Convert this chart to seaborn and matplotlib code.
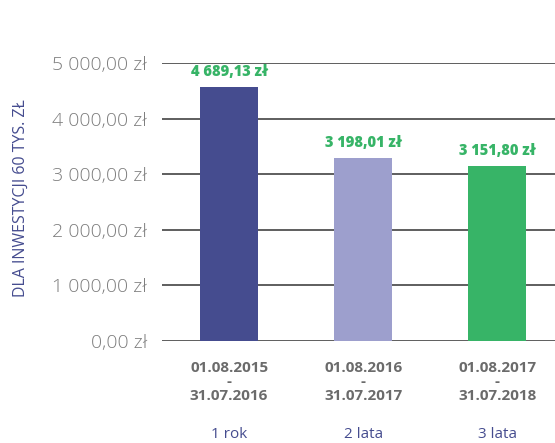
import matplotlib
matplotlib.use("Agg")
import matplotlib.pyplot as plt
import seaborn as sns
import pandas as pd

# data (bar heights as drawn in the source image; labels as printed)
periods = ["01.08.2015\n-\n31.07.2016", "01.08.2016\n-\n31.07.2017", "01.08.2017\n-\n31.07.2018"]
horizons = ["1 rok", "2 lata", "3 lata"]
bar_heights = [4560, 3290, 3145]
value_labels = ["4 689,13 zł", "3 198,01 zł", "3 151,80 zł"]
y_ticks = [0, 1000, 2000, 3000, 4000, 5000]
y_tick_labels = ["0,00 zł", "1 000,00 zł", "2 000,00 zł", "3 000,00 zł", "4 000,00 zł", "5 000,00 zł"]
bar_colors = ["#454c8f", "#9d9fcd", "#37b467"]

sns.set_style("white")
plt.rcParams["font.family"] = ["Open Sans", "DejaVu Sans"]

df = pd.DataFrame({"period": periods, "value": bar_heights})

fig = plt.figure(figsize=(5.55, 4.43), dpi=100)
ax = fig.add_axes([0.292, 0.230, 0.708, 0.628])

sns.barplot(data=df, x="period", y="value", hue="period", palette=bar_colors,
            legend=False, width=0.43, saturation=1, linewidth=0, ax=ax)

ax.set_ylim(0, 5000)
ax.set_xlim(-0.5, 2.43)
ax.set_yticks(y_ticks)
ax.set_yticklabels(y_tick_labels, fontsize=14, color="#7d7d7d", fontweight="light")
ax.tick_params(axis="y", length=0, pad=11)
ax.tick_params(axis="x", length=0, pad=14)
ax.set_xticks(range(len(periods)))
ax.set_xticklabels(periods, fontsize=11, fontweight="bold", color="#6b6b6b", linespacing=1.0)
ax.yaxis.grid(True, color="#333333", linewidth=1.1)
ax.set_axisbelow(True)
sns.despine(ax=ax, left=True, bottom=True, top=True, right=True)

ax.set_xlabel("")
ax.set_ylabel("DLA INWESTYCJI 60 TYS. ZŁ", fontsize=11.5, color="#454c8f", fontweight="medium")
ax.yaxis.set_label_coords(-0.34, 0.513)

for i, (v, lab) in enumerate(zip(bar_heights, value_labels)):
    ax.text(i, v + 130, lab, ha="center", va="bottom", fontsize=10.5,
            fontweight=800, color="#37b467", clip_on=False)

for i, h in enumerate(horizons):
    ax.text(i, -0.335, h, transform=ax.get_xaxis_transform(), ha="center",
            va="center", fontsize=11, color="#454c8f")

fig.savefig("out.png", dpi=100)
